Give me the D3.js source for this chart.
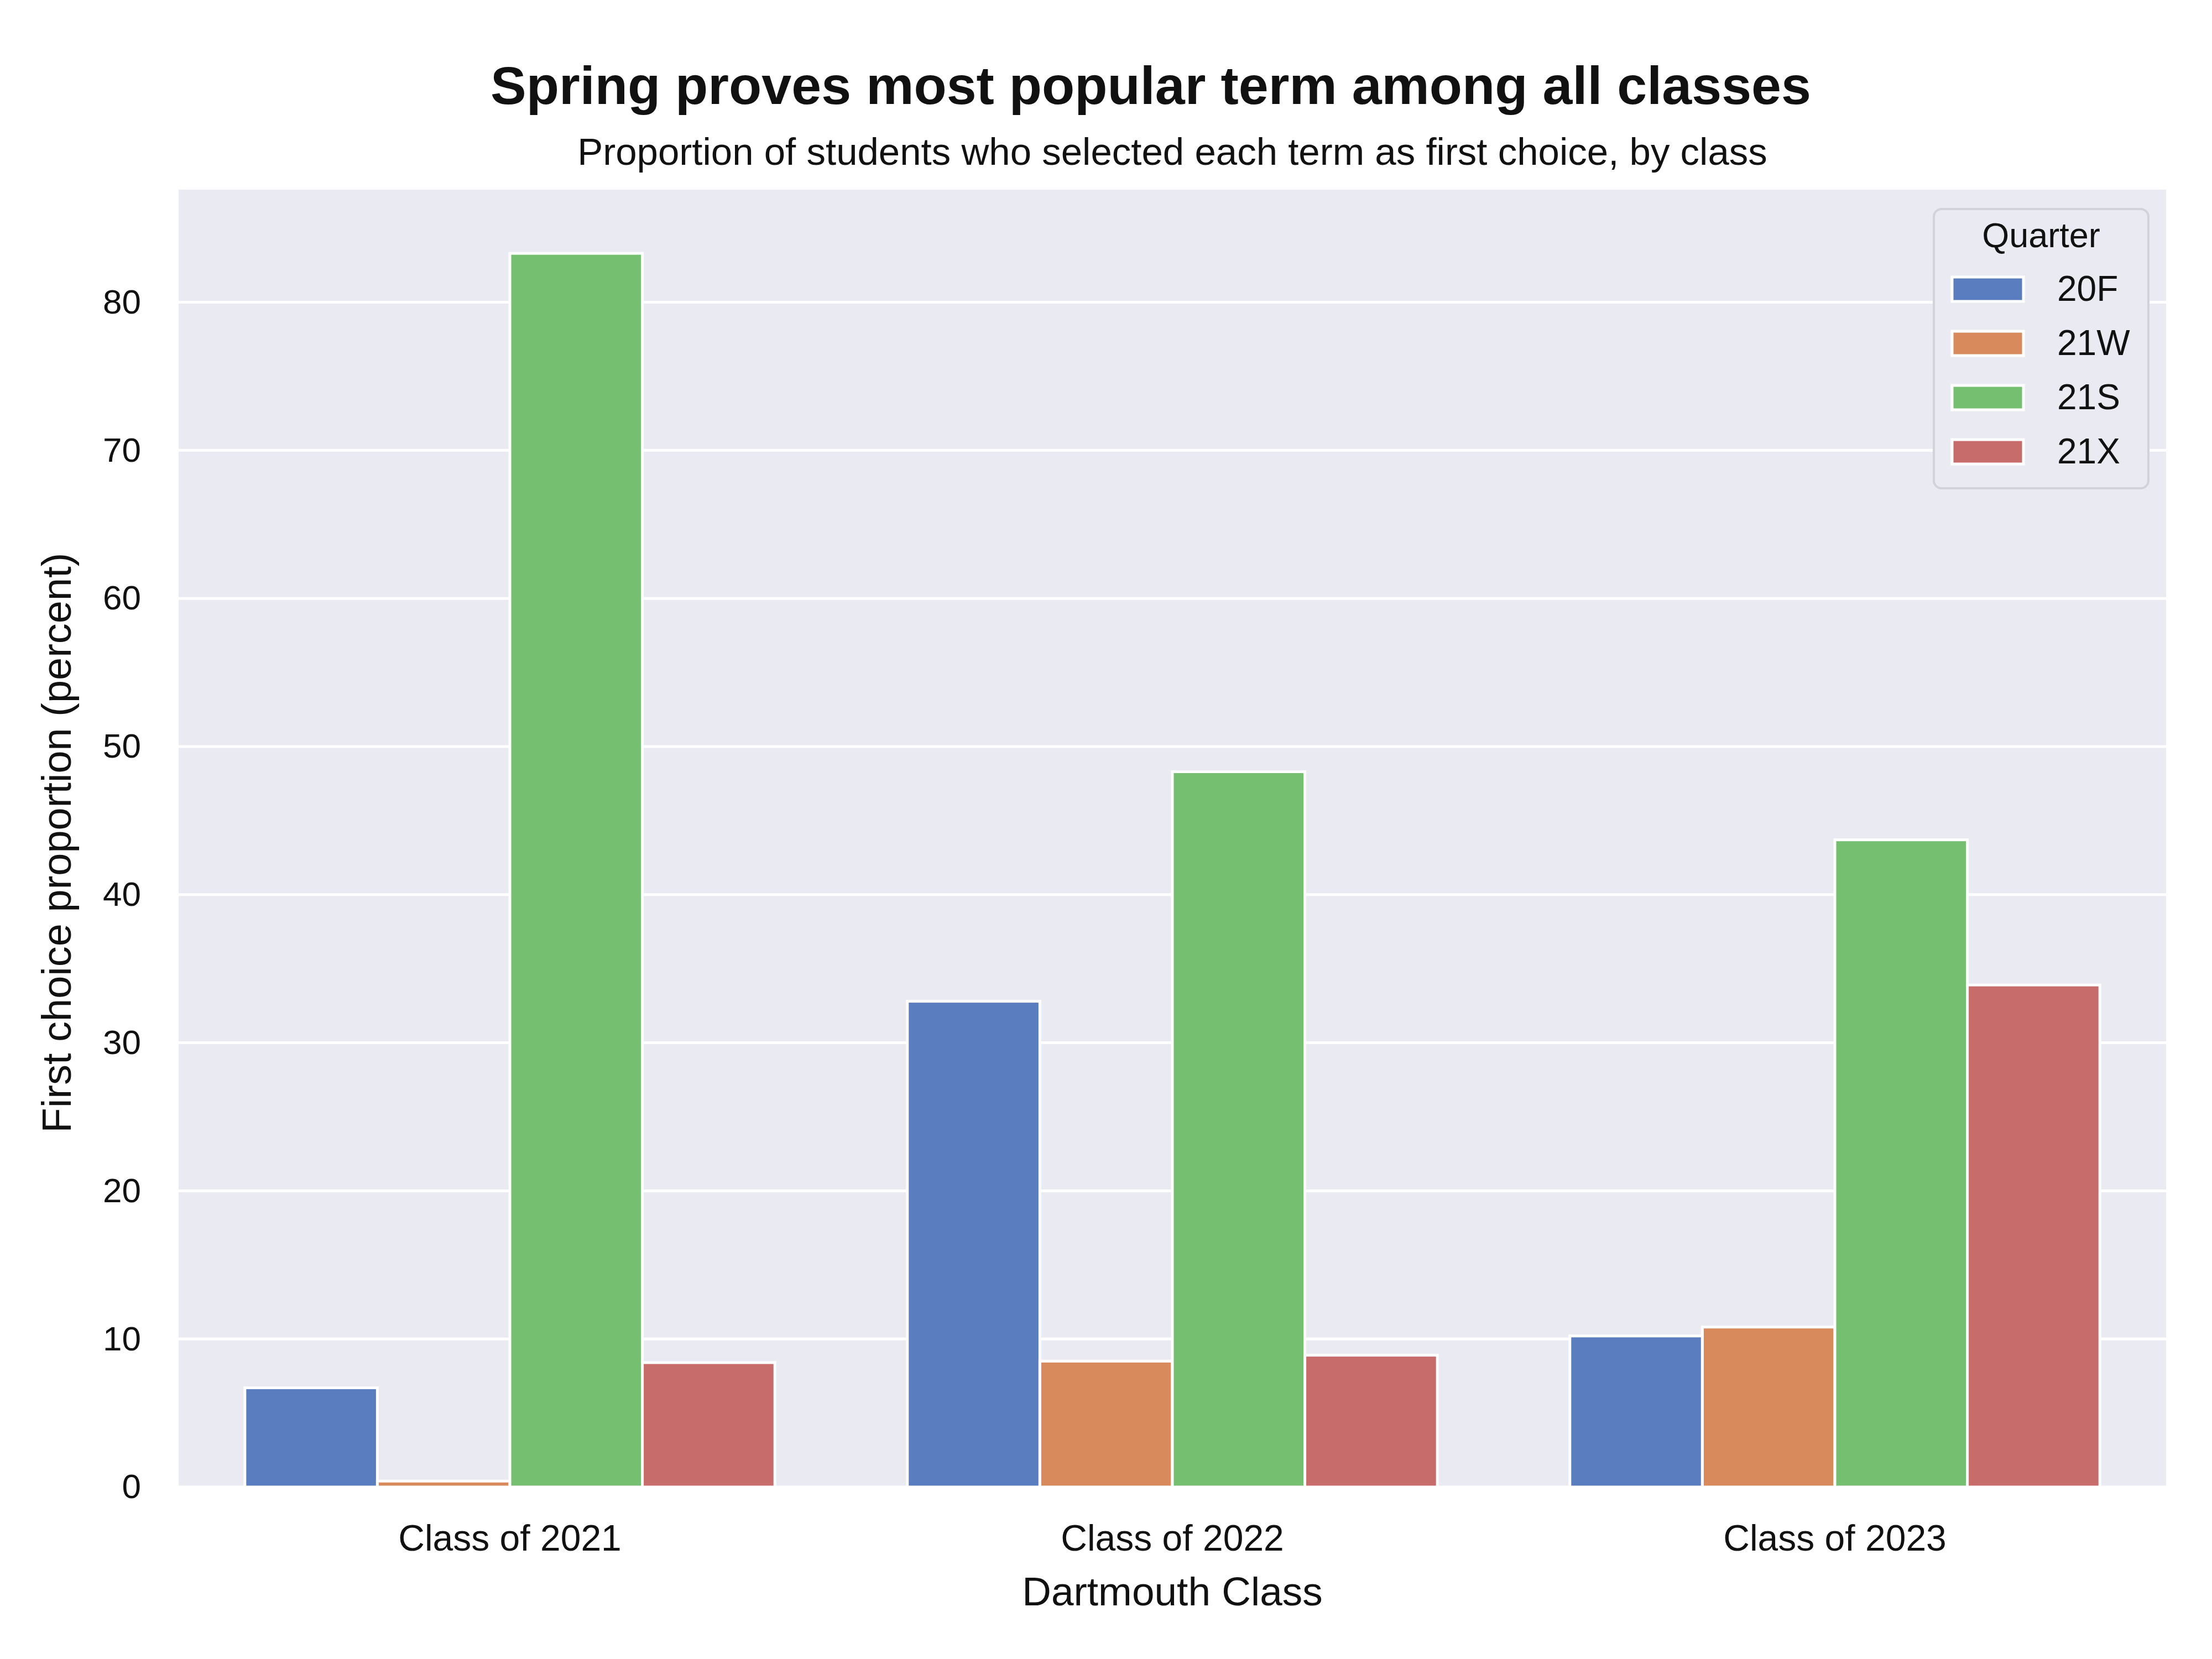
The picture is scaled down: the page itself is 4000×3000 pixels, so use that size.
<!DOCTYPE html>
<html>
<head>
<meta charset="utf-8">
<script src="https://cdn.jsdelivr.net/npm/d3@7"></script>
<style>
  html, body { margin: 0; padding: 0; background: #ffffff; }
  svg { display: block; }
  text { font-family: "Liberation Sans", Arial, Helvetica, sans-serif; fill: #111111; }
</style>
</head>
<body>
<script>
// ---- data ----
const classes = ["Class of 2021", "Class of 2022", "Class of 2023"];
const quarters = ["20F", "21W", "21S", "21X"];
const values20F = [6.7, 32.8, 10.2];
const values21W = [0.4, 8.5, 10.8];
const values21S = [83.3, 48.3, 43.7];
const values21X = [8.4, 8.9, 33.9];
const yTicks = [0, 10, 20, 30, 40, 50, 60, 70, 80];
const colors = ["#597dbf", "#d88a5d", "#75bf70", "#c76b6b"];
const titleText = "Spring proves most popular term among all classes";
const subtitleText = "Proportion of students who selected each term as first choice, by class";
const xLabel = "Dartmouth Class";
const yLabel = "First choice proportion (percent)";
const legendTitle = "Quarter";

const seriesValues = [values20F, values21W, values21S, values21X];
const rows = [];
classes.forEach((c, ci) => quarters.forEach((q, qi) => rows.push({cls: c, q: q, qi: qi, v: seriesValues[qi][ci]})));

// ---- layout ----
const W = 4000, H = 3000;
const plot = {left: 323, right: 3917, top: 343, bottom: 2689};

const svg = d3.select("body").append("svg").attr("width", W).attr("height", H);
svg.append("rect").attr("width", W).attr("height", H).attr("fill", "#ffffff");

const x = d3.scaleBand().domain(classes).range([plot.left, plot.right]).paddingInner(0).paddingOuter(0);
const xInner = d3.scaleBand().domain(quarters).range([0, x.bandwidth() * 0.8]);
const y = d3.scaleLinear().domain([0, 87.6]).range([plot.bottom, plot.top]);

// background
svg.append("rect").attr("x", plot.left).attr("y", plot.top)
  .attr("width", plot.right - plot.left).attr("height", plot.bottom - plot.top)
  .attr("fill", "#eaeaf2");

// grid
svg.append("g").selectAll("line").data(yTicks).join("line")
  .attr("x1", plot.left).attr("x2", plot.right)
  .attr("y1", d => y(d)).attr("y2", d => y(d))
  .attr("stroke", "#ffffff").attr("stroke-width", 5);

// bars
svg.append("g").selectAll("rect").data(rows).join("rect")
  .attr("x", d => x(d.cls) + x.bandwidth() * 0.1 + xInner(d.q))
  .attr("y", d => y(d.v))
  .attr("width", xInner.bandwidth())
  .attr("height", d => y(0) - y(d.v))
  .attr("fill", d => colors[d.qi])
  .attr("stroke", "#ffffff").attr("stroke-width", 5);

// y axis
const yAxis = d3.axisLeft(y).tickValues(yTicks).tickSize(0).tickPadding(68).tickFormat(d3.format("d"));
const gy = svg.append("g").attr("transform", `translate(${plot.left},0)`).call(yAxis);
gy.select(".domain").remove();
gy.selectAll("text").attr("font-size", 62).attr("fill", "#111111")
  .style("font-family", '"Liberation Sans", Arial, sans-serif');

// x axis
const xAxis = d3.axisBottom(x).tickSize(0).tickPadding(115);
const gx = svg.append("g").attr("transform", `translate(0,${plot.bottom})`).call(xAxis);
gx.select(".domain").remove();
gx.selectAll("text").attr("font-size", 66).attr("fill", "#111111").attr("dy", 0)
  .style("font-family", '"Liberation Sans", Arial, sans-serif');

// axis labels
svg.append("text").attr("x", (plot.left + plot.right) / 2).attr("y", 2903)
  .attr("text-anchor", "middle").attr("font-size", 73).text(xLabel);
svg.append("text").attr("transform", `translate(128,1524) rotate(-90)`)
  .attr("text-anchor", "middle").attr("font-size", 74).text(yLabel);

// titles
svg.append("text").attr("x", 2081).attr("y", 188)
  .attr("text-anchor", "middle").attr("font-size", 97).attr("font-weight", "bold").text(titleText);
svg.append("text").attr("x", (plot.left + plot.right) / 2).attr("y", 298)
  .attr("text-anchor", "middle").attr("font-size", 69).text(subtitleText);

// legend
const lg = svg.append("g");
lg.append("rect").attr("x", 3497).attr("y", 378).attr("width", 388).attr("height", 505)
  .attr("rx", 14).attr("ry", 14)
  .attr("fill", "#eaeaf2").attr("stroke", "#d2d2da").attr("stroke-width", 4);
lg.append("text").attr("x", 3691).attr("y", 447).attr("text-anchor", "middle")
  .attr("font-size", 63).text(legendTitle);
const ly = d3.scalePoint().domain(quarters).range([523, 817]);
const items = lg.selectAll("g.item").data(quarters).join("g").attr("class", "item");
items.append("rect").attr("x", 3530).attr("y", d => ly(d) - 22).attr("width", 129).attr("height", 44)
  .attr("fill", (d, i) => colors[i]).attr("stroke", "#ffffff").attr("stroke-width", 5);
items.append("text").attr("x", 3720).attr("y", d => ly(d) + 21)
  .attr("font-size", 64).text(d => d);
</script>
</body>
</html>
